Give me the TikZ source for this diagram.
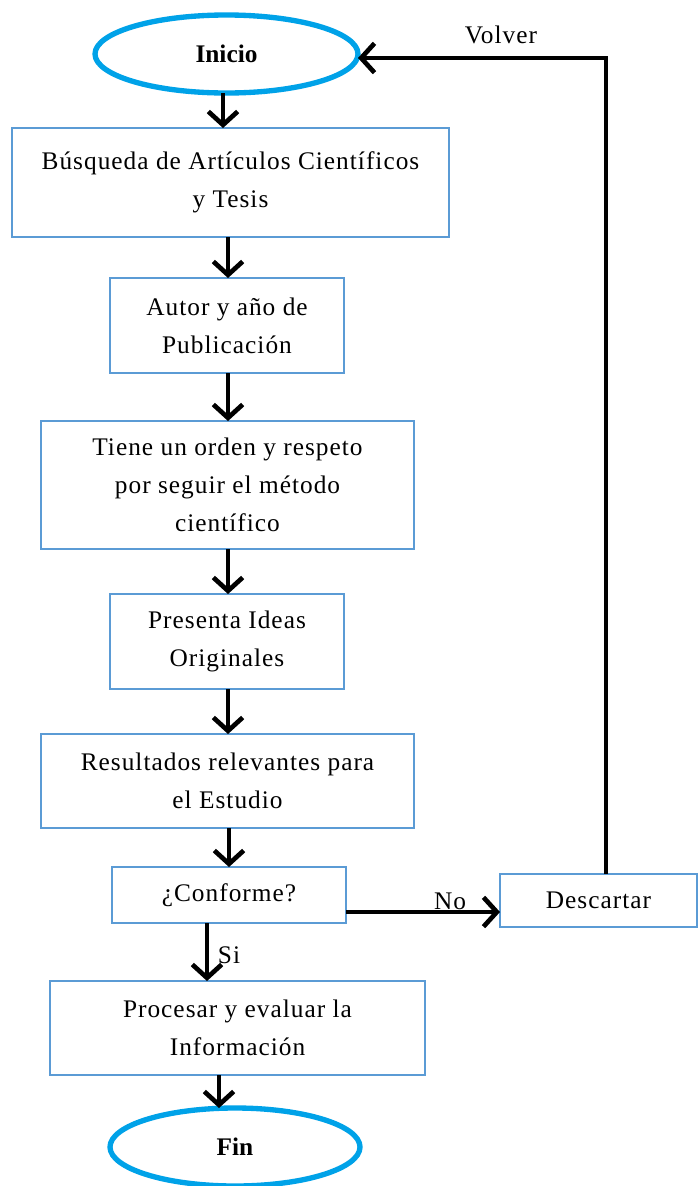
\documentclass[tikz,border=0pt]{standalone}
\usepackage{fontspec}
\setmainfont{Liberation Serif}
\newfontfamily\lsp{Liberation Serif}[LetterSpace=4]
\usetikzlibrary{arrows.meta,shapes.geometric,calc}
\definecolor{boxblue}{RGB}{91,155,213}
\definecolor{ovalblue}{RGB}{0,162,232}
\begin{document}
\begin{tikzpicture}[x=0.75pt,y=-0.75pt,
  every node/.style={inner sep=0pt,outer sep=0pt},
  stepbox/.style={draw=boxblue,line width=1.1pt,fill=white,align=center,
    font=\lsp\fontsize{19}{28.5}\selectfont},
  oval/.style={ellipse,draw=ovalblue,line width=4pt,fill=white,
    font=\bfseries\fontsize{19}{23}\selectfont},
  arr/.style={line width=3.5pt,-{Straight Barb[length=10pt,width=22pt]}},
  lbl/.style={font=\lsp\fontsize{19}{23}\selectfont}]
\useasboundingbox (0,0) rectangle (698,1186);

\node[oval,minimum width=197.25pt,minimum height=58.5pt] (inicio) at (226.5,54) {Inicio};
\node[stepbox,minimum width=327.75pt,minimum height=81.75pt] (b1) at (230.5,182.5)
  {Búsqueda de Artículos Científicos\\y Tesis};
\node[stepbox,minimum width=175.5pt,minimum height=71.25pt] (b2) at (227,325.5)
  {Autor y año de\\Publicación};
\node[stepbox,minimum width=279.75pt,minimum height=96pt] (b3) at (227.5,485)
  {Tiene un orden y respeto\\por seguir el método\\científico};
\node[stepbox,minimum width=175.5pt,minimum height=71.25pt] (b4) at (227,641.5)
  {Presenta Ideas\\Originales};
\node[stepbox,minimum width=279.75pt,minimum height=70.5pt] (b5) at (227.5,781)
  {Resultados relevantes para\\el Estudio};
\node[stepbox,minimum width=175.5pt,minimum height=42pt] (b6) at (229,895)
  {¿Conforme?};
\node[stepbox,minimum width=147.75pt,minimum height=39.75pt] (desc) at (598.5,900.5)
  {Descartar};
\node[stepbox,minimum width=281.25pt,minimum height=70.5pt] (b7) at (237.5,1028)
  {Procesar y evaluar la\\Información};
\node[oval,minimum width=187.5pt,minimum height=58.5pt] (fin) at (235,1147) {Fin};

\coordinate (turn) at (606,58);

\draw[arr] (inicio.south -| 223,0) -- (b1.north -| 223,0);
\draw[arr] (b1.south -| 228,0) -- (b2.north -| 228,0);
\draw[arr] (b2.south -| 228,0) -- (b3.north -| 228,0);
\draw[arr] (b3.south -| 228,0) -- (b4.north -| 228,0);
\draw[arr] (b4.south -| 228,0) -- (b5.north -| 228,0);
\draw[arr] (b5.south -| 229,0) -- (b6.north -| 229,0);
\draw[arr] (b6.south -| 207,0) -- (b7.north -| 207,0);
\draw[arr] (b7.south -| 219,0) -- (fin.north -| 219,0);
\draw[arr] (b6.east |- 0,912) -- (desc.west |- 0,912);
\draw[arr] (desc.north -| turn) -- (turn) -- (inicio.east |- turn);

\node[lbl] (no) at (450,901) {No};
\node[lbl] (si) at (229,955) {Si};
\node[lbl] (volver) at (501,35) {Volver};
\end{tikzpicture}
\end{document}
